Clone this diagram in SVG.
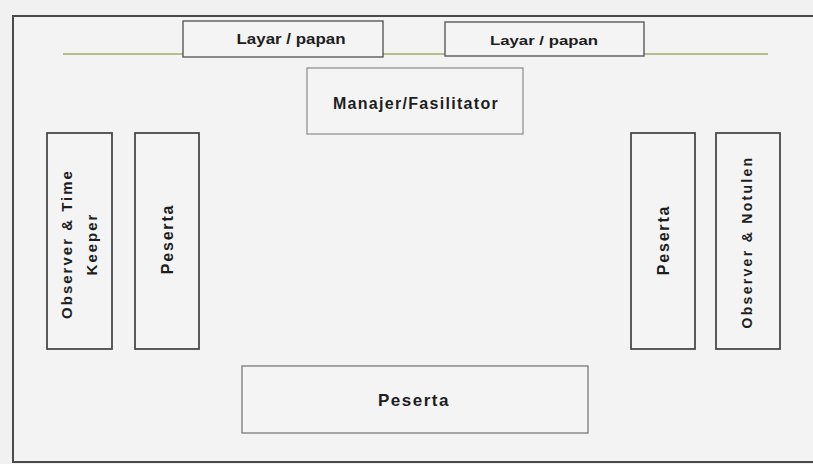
<svg xmlns="http://www.w3.org/2000/svg" width="813" height="464" viewBox="0 0 813 464">
<style>
.box{fill:#f4f4f4;stroke:#4a4a4a;stroke-width:1.8}
.lite{fill:#f4f4f4;stroke:#8a8a8a;stroke-width:1.2}
.t{font-family:"Liberation Sans",Arial,sans-serif;font-weight:bold;fill:#1e1e1e;text-anchor:middle}
</style>
<rect x="0" y="0" width="813" height="464" fill="#f1f1f1"/>
<rect x="13" y="16" width="820" height="446" fill="#f3f3f3" stroke="#4a4a4a" stroke-width="2"/>
<g id="connectors">
<line x1="63" y1="54" x2="768" y2="54" stroke="#b8bd8c" stroke-width="1.8"/>
</g>
<g id="layar1">
<rect class="box" x="183" y="21" width="200" height="36" style="stroke:#5a5a5a;stroke-width:1.4"/>
<text class="t" x="291" y="44" font-size="14.5" textLength="109" lengthAdjust="spacingAndGlyphs">Layar / papan</text>
</g>
<g id="layar2">
<rect class="box" x="445" y="22" width="199" height="34" style="stroke:#5a5a5a;stroke-width:1.4"/>
<text class="t" x="544" y="45" font-size="13" textLength="108" lengthAdjust="spacingAndGlyphs">Layar /  papan</text>
</g>
<g id="manajer">
<rect class="lite" x="307" y="68" width="216" height="66"/>
<text class="t" x="416" y="109" font-size="16" letter-spacing="1.3">Manajer/Fasilitator</text>
</g>
<g id="observer-time">
<rect class="box" x="47" y="133" width="65" height="216"/>
<text class="t" font-size="15" letter-spacing="2" transform="translate(72 244) rotate(-90)">Observer &amp;  Time</text>
<text class="t" font-size="15" letter-spacing="2" transform="translate(97 244) rotate(-90)">Keeper</text>
</g>
<g id="peserta-left">
<rect class="box" x="135" y="133" width="64" height="216"/>
<text class="t" font-size="16" letter-spacing="1.8" transform="translate(173 239) rotate(-90)">Peserta</text>
</g>
<g id="peserta-right">
<rect class="box" x="631" y="133" width="64" height="216"/>
<text class="t" font-size="16" letter-spacing="1.8" transform="translate(669 240) rotate(-90)">Peserta</text>
</g>
<g id="observer-notulen">
<rect class="box" x="716" y="133" width="64" height="216"/>
<text class="t" font-size="14" letter-spacing="2.3" transform="translate(752 242) rotate(-90)">Observer &amp;  Notulen</text>
</g>
<g id="peserta-bottom">
<rect class="lite" x="242" y="366" width="346" height="67" style="stroke:#707070"/>
<text class="t" x="414" y="406" font-size="17" letter-spacing="1.5">Peserta</text>
</g>
</svg>
